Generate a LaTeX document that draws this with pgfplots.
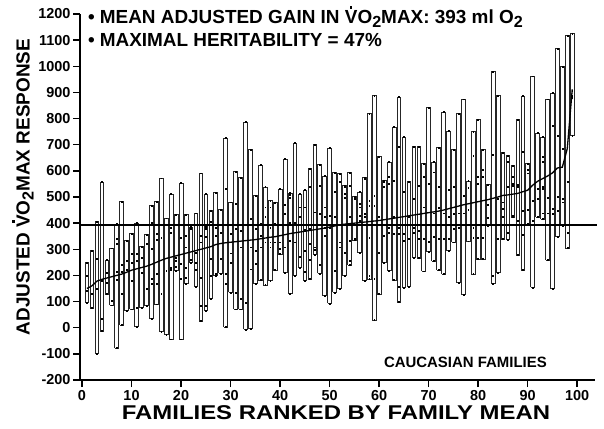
\documentclass[border=0pt]{standalone}
\usepackage{pgfplots}
\pgfplotsset{compat=1.18}
\usepackage{pgfplotstable}
\usepackage{fontspec}
\setmainfont{Liberation Sans}
\newcommand{\Vdot}{\ooalign{V\cr\hidewidth\raisebox{0.79em}{\rule{0.13em}{0.13em}}\hidewidth\cr}}
\newcommand{\sub}[1]{\raisebox{-0.22em}{\scalebox{0.85}{#1}}}
\pgfplotstableread{
n lo mean hi
1 97 150 250
2 75 160 295
3 -99 178 406
4 -12 185 557
5 129 190 259
6 86 195 304
7 -78 200 397
8 11 205 483
9 65 212 333
10 71 220 361
11 4 225 401
12 77 230 310
13 84 235 356
14 36 242 467
15 90 250 483
16 -15 258 572
17 -27 265 419
18 -44 270 512
19 218 275 432
20 -44 280 554
21 170 285 432
22 250 290 385
23 157 295 438
24 26 300 591
25 65 305 512
26 112 310 448
27 199 318 516
28 208 322 452
29 3 325 726
30 135 327 480
31 71 329 598
32 71 331 574
33 -6 333 787
34 -3 335 681
35 170 337 506
36 182 340 623
37 163 343 538
38 180 346 487
39 221 348 478
40 282 352 531
41 212 356 646
42 131 360 515
43 199 363 706
44 231 366 512
45 180 369 527
46 186 372 608
47 280 375 701
48 208 378 625
49 122 381 580
50 93 385 687
51 135 389 593
52 150 393 589
53 199 396 544
54 240 398 593
55 336 400 502
56 288 402 519
57 180 404 574
58 186 406 819
59 30 408 889
60 129 410 655
61 250 413 563
62 218 416 634
63 182 419 768
64 99 422 883
65 154 425 730
66 157 428 560
67 269 431 694
68 267 434 694
69 216 437 627
70 291 440 842
71 255 443 634
72 221 446 689
73 205 450 825
74 295 455 752
75 327 460 681
76 173 465 819
77 126 470 874
78 331 474 561
79 205 478 751
80 263 482 796
81 263 486 681
82 391 490 548
83 169 495 981
84 212 500 889
85 340 506 669
86 337 508 659
87 423 511 621
88 278 514 796
89 221 520 887
90 397 526 627
91 154 545 962
92 423 560 745
93 416 570 730
94 259 580 874
95 150 592 898
96 348 611 1068
97 390 614 998
98 305 685 1117
99 736 912 1126
}\famdata
\pgfplotstableread{
n v
1 199
1 141
2 129
3 265
3 148
4 180
4 33
5 212
5 173
6 103
7 342
7 320
7 215
7 184
8 241
8 215
8 129
9 256
9 221
10 282
10 250
10 180
11 282
11 256
11 77
12 269
12 212
13 320
13 150
14 403
14 301
14 186
14 169
15 359
15 337
15 205
15 167
16 343
16 129
17 218
18 384
18 365
18 231
18 221
19 269
19 256
19 233
20 346
20 244
20 186
21 352
21 308
21 231
21 192
22 378
22 259
23 288
23 250
23 221
24 352
24 327
24 192
24 84
25 388
25 378
25 348
25 84
26 404
26 263
26 199
27 384
27 352
27 205
28 365
28 263
29 531
29 205
29 170
30 359
30 285
30 250
31 476
31 378
31 135
32 372
32 308
32 110
33 96
34 416
34 308
34 224
35 378
35 295
35 244
36 397
36 352
36 308
37 461
37 423
37 327
38 461
38 384
38 327
38 308
39 397
39 327
40 327
40 301
41 471
41 435
41 308
42 508
42 497
42 400
42 333
43 400
43 327
44 461
44 423
44 272
45 461
45 374
45 295
45 214
46 538
46 378
46 320
46 260
47 442
47 308
47 297
48 544
48 435
48 241
49 461
49 425
49 384
49 352
50 429
50 384
51 519
51 423
51 218
52 557
52 327
52 308
53 538
53 512
53 499
53 288
54 544
54 425
54 333
54 256
55 493
55 340
56 474
56 461
56 429
56 410
57 570
57 435
57 425
58 487
58 467
58 346
58 199
59 506
59 467
59 186
60 423
60 288
61 557
61 538
61 352
62 576
62 550
62 384
62 365
63 563
63 423
63 359
64 691
64 384
64 359
64 157
65 519
65 359
65 333
66 557
66 423
66 340
67 493
67 384
67 365
68 544
68 371
68 340
69 576
69 461
69 340
70 550
70 442
70 330
71 595
71 438
71 349
72 540
72 458
72 342
73 438
73 342
74 527
74 423
74 340
75 540
75 435
75 380
76 438
76 382
77 506
77 438
78 535
78 450
79 659
79 384
79 346
80 579
80 550
80 346
81 604
81 579
81 346
82 470
82 420
83 662
83 199
84 493
84 340
85 480
85 455
85 423
86 634
86 540
86 365
87 576
87 550
87 544
87 429
88 547
88 538
88 410
89 672
89 448
89 356
90 604
90 591
90 450
91 487
91 410
92 531
92 493
93 653
93 634
93 538
93 531
93 438
94 497
94 438
95 774
95 455
95 435
96 736
96 502
96 448
97 685
97 493
97 480
98 557
98 365
99 908
99 889
99 880
}\dotdata
\begin{document}
\begin{tikzpicture}[x=1bp,y=1bp]
\useasboundingbox (0,0) rectangle (604,428);
\begin{axis}[
  at={(80bp,48bp)}, anchor=south west,
  scale only axis, width=515bp, height=366bp,
  xmin=-0.4, xmax=103.6, ymin=-200, ymax=1200,
  axis x line*=bottom, axis y line*=left,
  axis line style={line width=1.8bp},
  tick align=outside,
  xtick={0,10,...,100}, ytick={-200,-100,...,1200},
  minor tick num=0,
  major tick length=7bp,
  tick style={black, line width=1.5bp},
  /pgf/number format/1000 sep={},
  /pgf/number format/assume math mode=true,
  ticklabel style={font=\bfseries\fontsize{14.5}{14.5}\selectfont},
  yticklabel style={xshift=1bp},
  clip=false,
]
\pgfplotsinvokeforeach{0,...,98}{
  \pgfplotstablegetelem{#1}{n}\of\famdata
  \pgfmathsetmacro\xa{\pgfplotsretval-0.38}
  \pgfmathsetmacro\xb{\pgfplotsretval+0.38}
  \pgfplotstablegetelem{#1}{lo}\of\famdata \let\ylo\pgfplotsretval
  \pgfplotstablegetelem{#1}{hi}\of\famdata \let\yhi\pgfplotsretval
  \edef\temp{\noexpand\addplot[black!85, line width=0.65bp, line join=miter] coordinates {(\xa,\ylo) (\xa,\yhi) (\xb,\yhi) (\xb,\ylo) (\xa,\ylo)};}
  \temp
}
\addplot[only marks, mark=square*, mark size=0.45bp, black] table[x=n, y=hi]{\famdata};
\addplot[only marks, mark=square*, mark size=0.45bp, black] table[x=n, y=lo]{\famdata};
\addplot[only marks, mark=square*, mark size=0.45bp, black] table[x=n, y=v]{\dotdata};
\addplot[black, line width=1.3bp] table[x=n, y=mean]{\famdata};
\addplot[black, line width=1.1bp] coordinates {(-0.4,393) (104,393)};
\end{axis}
\begin{scope}[every node/.style={inner sep=0pt, outer sep=0pt}]
\node[anchor=base west, font=\bfseries\fontsize{19}{19}\selectfont] at (88,404.5) {\textbullet\ MEAN ADJUSTED GAIN IN \Vdot O\sub{2}MAX: 393 ml O\sub{2}};
\node[anchor=base west, font=\bfseries\fontsize{19}{19}\selectfont] at (88,381.5) {\textbullet\ MAXIMAL HERITABILITY = 47\%};
\node[anchor=base west, font=\bfseries\fontsize{15}{15}\selectfont] at (384,61) {CAUCASIAN FAMILIES};
\node[anchor=base, xscale=1.2, font=\bfseries\fontsize{20}{20}\selectfont] at (336,9) {FAMILIES RANKED BY FAMILY MEAN};
\node[anchor=base, rotate=90, font=\bfseries\fontsize{19}{19}\selectfont] at (29.5,241) {ADJUSTED \Vdot O\sub{2}MAX RESPONSE};
\end{scope}
\end{tikzpicture}
\end{document}
